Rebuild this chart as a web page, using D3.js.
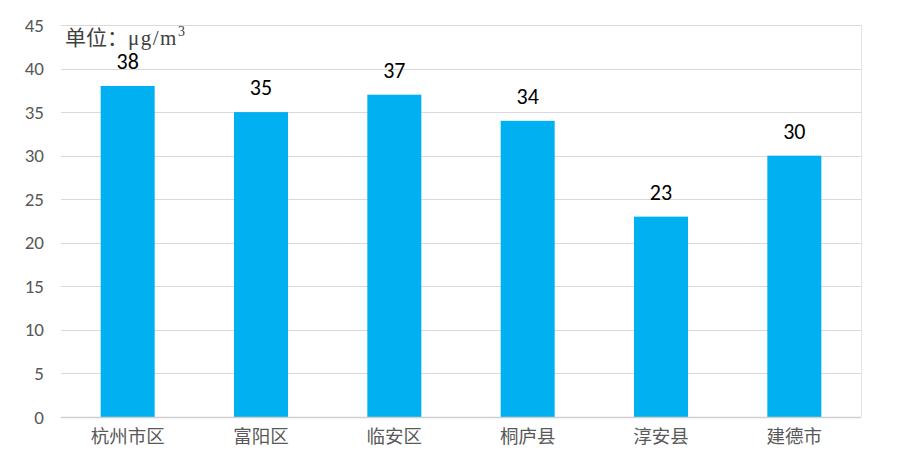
<!DOCTYPE html>
<html>
<head>
<meta charset="utf-8">
<script src="https://cdn.jsdelivr.net/npm/d3@7"></script>
<style>
  body { margin: 0; background: #fff; }
  svg { display: block; }
</style>
</head>
<body>
<svg id="chart" width="901" height="462"></svg>
<script>
const categories = ['杭州市区', '富阳区', '临安区', '桐庐县', '淳安县', '建德市']
const values = [38, 35, 37, 34, 23, 30]
const yTicks = [0, 5, 10, 15, 20, 25, 30, 35, 40, 45]
const unitPrefix = '单位：'
const unitName = 'μg/m'

const svg = d3.select('#chart')
const plotLeft = 61, plotRight = 861, plotTop = 25, plotBottom = 417

const x = d3.scaleBand().domain(categories).range([plotLeft, plotRight]).paddingInner(0.595).paddingOuter(0.2975)
const y = d3.scaleLinear().domain([0, 45]).range([plotBottom, plotTop])

// gridlines
svg.append('g')
  .selectAll('line')
  .data(yTicks.filter(d => d > 0))
  .enter()
  .append('line')
  .attr('x1', plotLeft)
  .attr('x2', plotRight)
  .attr('y1', d => Math.round(y(d)) + 0.5)
  .attr('y2', d => Math.round(y(d)) + 0.5)
  .attr('stroke', '#d9d9d9')
  .attr('stroke-width', 1)

// right border of plot area
svg.append('line')
  .attr('x1', plotRight + 0.5).attr('x2', plotRight + 0.5)
  .attr('y1', y(45)).attr('y2', plotBottom)
  .attr('stroke', '#e3e3e3')

// bars
svg.append('g')
  .selectAll('rect')
  .data(values)
  .enter()
  .append('rect')
  .attr('x', (d, i) => x(categories[i]))
  .attr('y', d => y(d))
  .attr('width', x.bandwidth())
  .attr('height', d => plotBottom - y(d))
  .attr('fill', '#00b0f0')

// baseline
svg.append('line')
  .attr('x1', plotLeft).attr('x2', plotRight)
  .attr('y1', plotBottom + 0.5).attr('y2', plotBottom + 0.5)
  .attr('stroke', '#d0d0d0')
  .attr('stroke-width', 1.5)

// value labels
svg.append('g')
  .selectAll('text')
  .data(values)
  .enter()
  .append('text')
  .attr('x', (d, i) => x(categories[i]) + x.bandwidth() / 2)
  .attr('y', d => y(d) - 17)
  .attr('text-anchor', 'middle')
  .attr('font-family', 'Calibri, Carlito, "Liberation Sans", "Noto Sans", sans-serif')
  .attr('font-size', 22)
  .attr('fill', '#000')
  .text(d => d)

// y axis
const yAxis = d3.axisLeft(y).tickValues(yTicks).tickSize(0).tickPadding(0)
const ya = svg.append('g').attr('transform', `translate(${plotLeft - 17},0)`).call(yAxis)
ya.select('.domain').remove()
ya.selectAll('text')
  .attr('font-family', 'Calibri, Carlito, "Liberation Sans", "Noto Sans", sans-serif')
  .attr('font-size', 19)
  .attr('fill', '#595959')

// x axis
const xAxis = d3.axisBottom(x).tickSize(0).tickPadding(13)
const xa = svg.append('g').attr('transform', `translate(0,${plotBottom})`).call(xAxis)
xa.select('.domain').remove()
xa.selectAll('text')
  .attr('font-family', '"Noto Sans CJK SC", sans-serif')
  .attr('font-size', 18.5)
  .attr('fill', '#595959')

// unit label
const unit = svg.append('text')
  .attr('x', 65)
  .attr('y', 45)
  .attr('font-family', '"Liberation Serif", "Noto Sans CJK SC", serif')
  .attr('font-size', 21)
  .attr('fill', '#404040')
unit.append('tspan').text(unitPrefix)
unit.append('tspan').attr('letter-spacing', 1.5).text(unitName)
unit.append('tspan').attr('dy', -9).attr('font-size', 14).text('3')
</script>
</body>
</html>
